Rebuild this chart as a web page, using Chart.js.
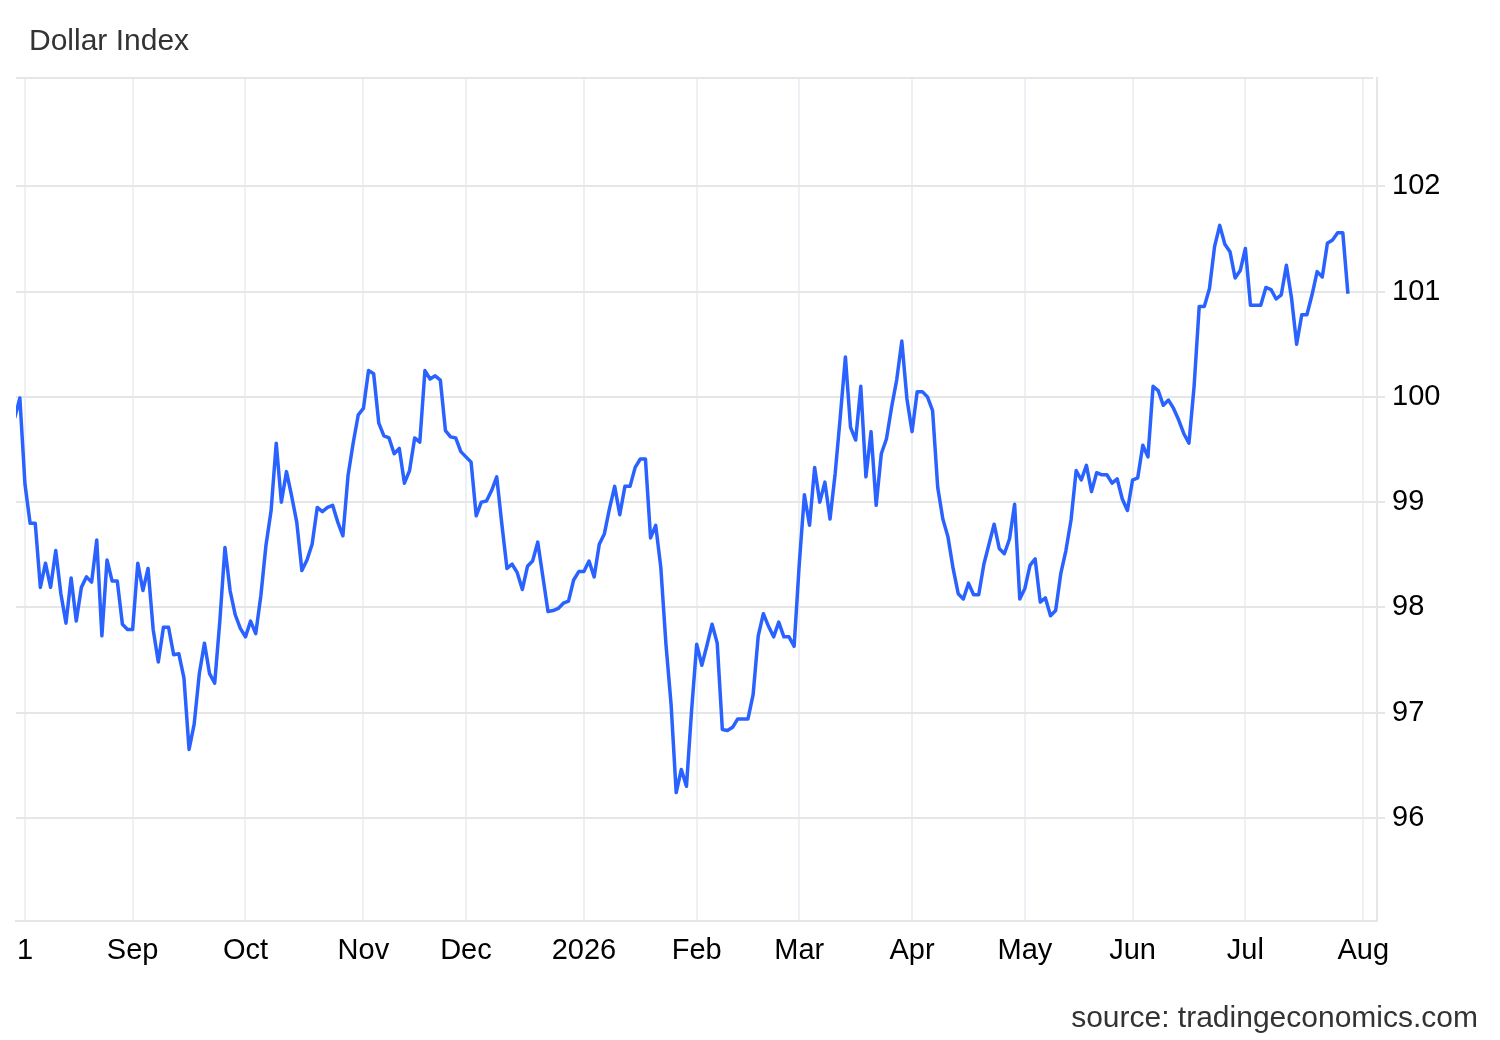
<!DOCTYPE html>
<html>
<head>
<meta charset="utf-8">
<title>Dollar Index</title>
<script src="https://cdn.jsdelivr.net/npm/chart.js@4.4.1/dist/chart.umd.min.js"></script>
<style>
    html, body { margin: 0; padding: 0; background: #fff; }
    #wrap { position: relative; width: 1500px; height: 1040px; font-family: 'Liberation Sans', Arial, sans-serif; }
    #title { position: absolute; left: 29px; top: 25px; font-size: 30px; line-height: 30px; color: #333; }
    #source { position: absolute; right: 22px; top: 1002px; font-size: 30px; line-height: 30px; color: #333; }
    #chart { position: absolute; left: 0; top: 0; }
</style>
</head>
<body>
<div id="wrap">
    <canvas id="chart" width="1500" height="1040"></canvas>
    <div id="title">Dollar Index</div>
    <div id="source">source: tradingeconomics.com</div>
</div>
<script>
// ===================== DATA =====================

// one value per trading day, first value sits one day before Aug 1 2025
const firstIndex = -1;
const dxyValues = [
    99.80, 99.99, 99.17, 98.80, 98.80, 98.19, 98.42, 98.19, 98.54, 98.13,
    97.85, 98.28, 97.87, 98.19, 98.29, 98.24, 98.64, 97.73, 98.45, 98.25,
    98.25, 97.84, 97.79, 97.79, 98.42, 98.16, 98.37, 97.79, 97.48, 97.81,
    97.81, 97.55, 97.56, 97.33, 96.65, 96.89, 97.37, 97.66, 97.37, 97.28,
    97.87, 98.57, 98.16, 97.93, 97.80, 97.72, 97.87, 97.75, 98.11, 98.59,
    98.92, 99.56, 99.00, 99.29, 99.06, 98.81, 98.35, 98.45, 98.60, 98.95,
    98.91, 98.95, 98.97, 98.81, 98.68, 99.25, 99.56, 99.83, 99.89, 100.25,
    100.22, 99.75, 99.63, 99.61, 99.46, 99.51, 99.18, 99.30, 99.61, 99.57,
    100.25, 100.17, 100.20, 100.16, 99.68, 99.62, 99.61, 99.48, 99.43, 99.38,
    98.87, 99.00, 99.01, 99.11, 99.24, 98.79, 98.37, 98.41, 98.33, 98.17,
    98.39, 98.44, 98.62, 98.29, 97.96, 97.97, 97.99, 98.04, 98.06, 98.26,
    98.34, 98.34, 98.44, 98.29, 98.60, 98.70, 98.94, 99.15, 98.88, 99.15,
    99.15, 99.33, 99.41, 99.41, 98.66, 98.78, 98.38, 97.65, 97.08, 96.24,
    96.46, 96.30, 97.02, 97.65, 97.45, 97.64, 97.84, 97.66, 96.84, 96.83,
    96.86, 96.94, 96.94, 96.94, 97.17, 97.73, 97.94, 97.82, 97.72, 97.86,
    97.72, 97.72, 97.63, 98.41, 99.07, 98.78, 99.33, 99.00, 99.19, 98.84,
    99.27, 99.81, 100.38, 99.71, 99.59, 100.10, 99.24, 99.67, 98.97, 99.46,
    99.60, 99.90, 100.16, 100.53, 99.98, 99.67, 100.05, 100.05, 100.00, 99.87,
    99.14, 98.84, 98.67, 98.37, 98.13, 98.08, 98.23, 98.12, 98.12, 98.41,
    98.60, 98.79, 98.56, 98.51, 98.65, 98.98, 98.08, 98.18, 98.40, 98.46,
    98.05, 98.09, 97.92, 97.97, 98.32, 98.54, 98.83, 99.30, 99.21, 99.35,
    99.10, 99.28, 99.26, 99.26, 99.18, 99.22, 99.03, 98.92, 99.21, 99.23,
    99.54, 99.43, 100.10, 100.06, 99.92, 99.97, 99.89, 99.78, 99.65, 99.56,
    100.10, 100.86, 100.86, 101.03, 101.43, 101.63, 101.45, 101.38, 101.13, 101.20,
    101.41, 100.87, 100.87, 100.87, 101.04, 101.02, 100.93, 100.97, 101.25, 100.94,
    100.50, 100.78, 100.78, 100.97, 101.19, 101.14, 101.46, 101.49, 101.56, 101.56,
    100.98
];

// trading-day index of the first session of each month
const tickIndex  = [1, 22, 44, 67, 87, 110, 132, 152, 174, 196, 217, 239, 262];
const tickLabels = ['1', 'Sep', 'Oct', 'Nov', 'Dec', '2026', 'Feb', 'Mar', 'Apr', 'May', 'Jun', 'Jul', 'Aug'];
const yTicks     = [96, 97, 98, 99, 100, 101, 102];

// ===================== CHART =====================

const FONT = "'Liberation Sans', Arial, sans-serif";

// top edge of the plot frame
const frameTop = {
    id: 'frameTop',
    beforeDatasetsDraw(chart) {
        const { ctx, chartArea } = chart;
        ctx.save();
        ctx.strokeStyle = '#e6e6e6';
        ctx.lineWidth = 2;
        ctx.beginPath();
        ctx.moveTo(chartArea.left, chartArea.top);
        ctx.lineTo(chartArea.right - 4, chartArea.top);
        ctx.stroke();
        ctx.restore();
    }
};

new Chart(document.getElementById('chart'), {
    type: 'line',
    data: {
        datasets: [{
            label: 'Dollar Index',
            data: dxyValues.map((v, i) => ({ x: firstIndex + i, y: v })),
            borderColor: '#2962ff',
            borderWidth: 3.5,
            borderJoinStyle: 'round',
            pointRadius: 0,
            tension: 0,
            fill: false,
            clip: 0
        }]
    },
    options: {
        responsive: false,
        animation: false,
        events: [],
        layout: { padding: { top: 78, left: 16, right: 0, bottom: 0 } },
        plugins: {
            legend: { display: false },
            tooltip: { enabled: false }
        },
        scales: {
            x: {
                type: 'linear',
                min: -0.75,
                max: 264.67,
                afterBuildTicks: axis => { axis.ticks = tickIndex.map(v => ({ value: v })); },
                afterFit: axis => { axis.height = 119; },
                ticks: {
                    autoSkip: false,
                    maxRotation: 0,
                    color: '#000',
                    padding: 13,
                    font: { size: 29, family: FONT },
                    callback: (v, i) => tickLabels[i]
                },
                grid: { color: '#edf1f5', lineWidth: 2, drawTicks: false },
                border: { display: true, color: '#e6e6e6', width: 2 }
            },
            y: {
                position: 'right',
                min: 95.02,
                max: 103.03,
                afterBuildTicks: axis => { axis.ticks = yTicks.map(v => ({ value: v })); },
                afterFit: axis => { axis.width = 123; },
                ticks: {
                    color: '#000',
                    padding: 7,
                    font: { size: 29, family: FONT }
                },
                grid: { color: '#e6e6e6', lineWidth: 2, tickLength: 8 },
                border: { display: true, color: '#e6e6e6', width: 2 }
            }
        }
    },
    plugins: [frameTop]
});
</script>
</body>
</html>
